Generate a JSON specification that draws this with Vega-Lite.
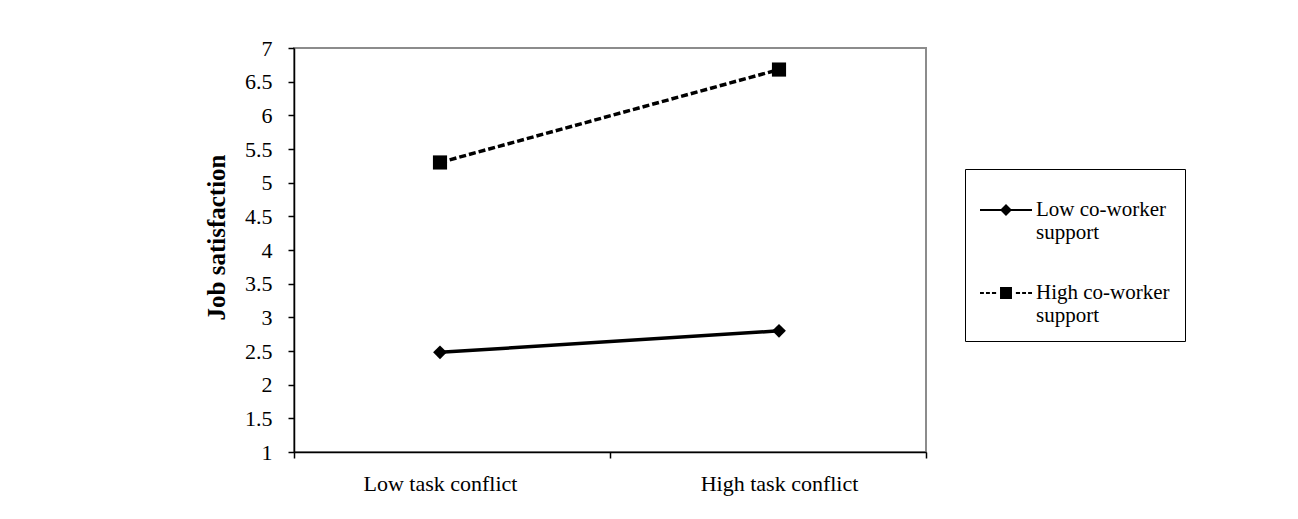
{
  "$schema": "https://vega.github.io/schema/vega-lite/v6.json",
  "width": 632,
  "height": 404,
  "autosize": {"type": "none"},
  "padding": {"left": 294, "top": 48, "right": 372, "bottom": 67},
  "background": "white",
  "config": {
    "view": {"stroke": "#8c8c8c", "strokeWidth": 2},
    "font": "Liberation Serif"
  },
  "data": {
    "values": [
      {"support": "Low co-worker support", "conflict": "Low task conflict", "satisfaction": 2.48},
      {"support": "Low co-worker support", "conflict": "High task conflict", "satisfaction": 2.8},
      {"support": "High co-worker support", "conflict": "Low task conflict", "satisfaction": 5.3},
      {"support": "High co-worker support", "conflict": "High task conflict", "satisfaction": 6.68}
    ]
  },
  "encoding": {
    "y": {
      "field": "satisfaction",
      "type": "quantitative",
      "scale": {"domain": [1, 7], "nice": false, "zero": false},
      "axis": {
        "title": "Job satisfaction",
        "titleFontSize": 25,
        "titleFontWeight": "bold",
        "titleColor": "black",
        "titlePadding": 15,
        "titleY": 189,
        "values": [1, 1.5, 2, 2.5, 3, 3.5, 4, 4.5, 5, 5.5, 6, 6.5, 7],
        "format": "~g",
        "labelFontSize": 22,
        "labelColor": "black",
        "labelPadding": 16,
        "domainColor": "black",
        "domainWidth": 1.5,
        "tickColor": "black",
        "tickWidth": 1.5,
        "tickSize": 6,
        "grid": false
      }
    }
  },
  "layer": [
    {
      "mark": {"type": "point", "opacity": 0},
      "encoding": {
        "x": {
          "field": "conflict",
          "type": "nominal",
          "sort": ["Low task conflict", "High task conflict"],
          "scale": {"type": "band", "paddingInner": 0, "paddingOuter": 0},
          "axis": {
            "orient": "bottom",
            "title": null,
            "labels": false,
            "tickBand": "extent",
            "domainColor": "black",
            "domainWidth": 1.5,
            "tickColor": "black",
            "tickWidth": 1.5,
            "tickSize": 6,
            "grid": false
          }
        }
      }
    },
    {
      "encoding": {
        "x": {
          "field": "conflict",
          "type": "nominal",
          "sort": ["Low task conflict", "High task conflict"],
          "scale": {"type": "point", "range": [146, 485], "padding": 0},
          "axis": {
            "orient": "bottom",
            "title": null,
            "domain": false,
            "ticks": false,
            "labelAngle": 0,
            "labelFontSize": 22,
            "labelColor": "black",
            "labelPadding": 21,
            "grid": false
          }
        }
      },
      "layer": [
        {
          "transform": [{"filter": "datum.support == 'Low co-worker support'"}],
          "mark": {"type": "line", "color": "black", "strokeWidth": 3.5},
          "encoding": {}
        },
        {
          "transform": [{"filter": "datum.support == 'High co-worker support'"}],
          "mark": {"type": "line", "color": "black", "strokeWidth": 3.5, "strokeDash": [7, 3]},
          "encoding": {}
        },
        {
          "transform": [{"filter": "datum.support == 'Low co-worker support'"}],
          "mark": {"type": "point", "shape": "diamond", "filled": true, "color": "black", "opacity": 1, "size": 190},
          "encoding": {}
        },
        {
          "transform": [{"filter": "datum.support == 'High co-worker support'"}],
          "mark": {"type": "point", "shape": "square", "filled": true, "color": "black", "opacity": 1, "size": 200},
          "encoding": {}
        },
        {
          "mark": {"type": "point", "filled": true, "color": "black", "opacity": 0},
          "encoding": {
            "shape": {
              "field": "support",
              "type": "nominal",
              "scale": {
                "domain": ["Low co-worker support", "High co-worker support"],
                "range": [
                  "M-1,-0.04H1V0.04H-1Z M0,-0.23L0.23,0L0,0.23L-0.23,0Z",
                  "M-1,-0.04H-0.85V0.04H-1Z M-0.77,-0.04H-0.62V0.04H-0.77Z M-0.54,-0.04H-0.38V0.04H-0.54Z M0.38,-0.04H0.54V0.04H0.38Z M0.62,-0.04H0.77V0.04H0.62Z M0.85,-0.04H1V0.04H0.85Z M-0.23,-0.23H0.23V0.23H-0.23Z"
                ]
              },
              "legend": {
                "orient": "none",
                "legendX": 671,
                "legendY": 121,
                "title": null,
                "strokeColor": "black",
                "padding": 15,
                "labelFontSize": 21,
                "labelColor": "black",
                "labelLimit": 300,
                "labelOffset": 4,
                "rowPadding": 24,
                "symbolSize": 2704,
                "symbolOpacity": 1,
                "symbolFillColor": "black",
                "symbolStrokeColor": "black",
                "symbolStrokeWidth": 0,
                "labelExpr": "datum.value == 'Low co-worker support' ? ['Low co-worker', 'support'] : ['High co-worker', 'support']"
              }
            }
          }
        }
      ]
    }
  ],
  "resolve": {"scale": {"x": "independent"}, "axis": {"x": "independent"}}
}
